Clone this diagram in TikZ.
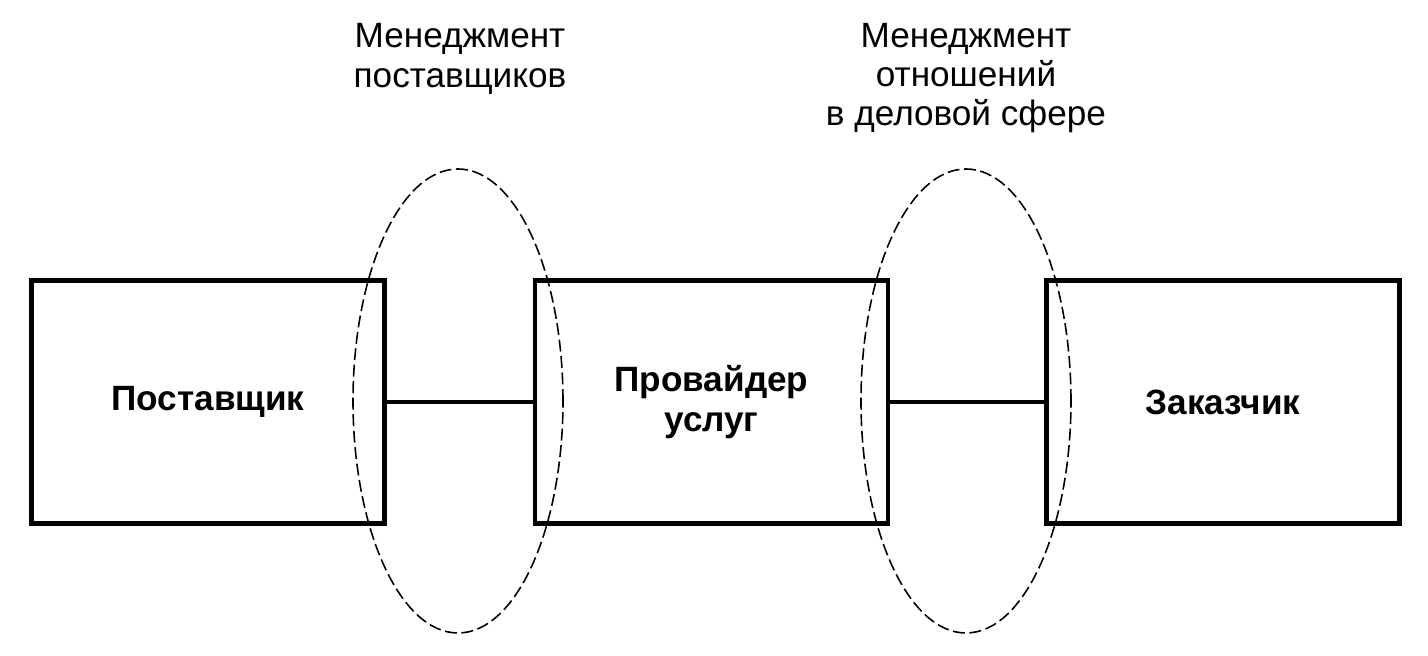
\documentclass[tikz,border=0pt]{standalone}
\usepackage{fontspec}
\setmainfont{Liberation Sans}
\usepackage{tikz}
\usetikzlibrary{shapes.geometric,positioning,calc}

\tikzset{
	partybox/.style={draw, line width=1.4pt, minimum width=3.53cm, minimum height=2.43cm, inner sep=0pt, align=center, font=\fontsize{10}{11.5}\selectfont\bfseries},
	mgmtzone/.style={draw, ellipse, dash pattern=on 3.4pt off 1.3pt, line width=0.45pt, minimum width=2.10cm, minimum height=4.64cm, inner sep=0pt},
	zonelabel/.style={align=center, font=\fontsize{10}{11.2}\selectfont},
	link/.style={line width=1.2pt}
}

\begin{document}
\begin{tikzpicture}
		\useasboundingbox (0,0) rectangle (14.28,6.56);

		\node[partybox] (supplier) at (2.08,2.54) {Поставщик};
		\node[partybox] (provider) at (7.115,2.54) {Провайдер\\услуг};
		\node[partybox] (customer) at (12.23,2.54) {Заказчик};

		\draw[link] (supplier) -- (provider);
		\draw[link] (provider) -- (customer);

		\node[mgmtzone] (zoneA) at (4.58,2.55) {};
		\node[mgmtzone] (zoneB) at (9.66,2.55) {};

		\node[zonelabel] (labelA) at (4.60,5.97) {Менеджмент\\поставщиков};
		\node[zonelabel] (labelB) at (9.66,5.78) {Менеджмент\\отношений\\в деловой сфере};
	\end{tikzpicture}
\end{document}
